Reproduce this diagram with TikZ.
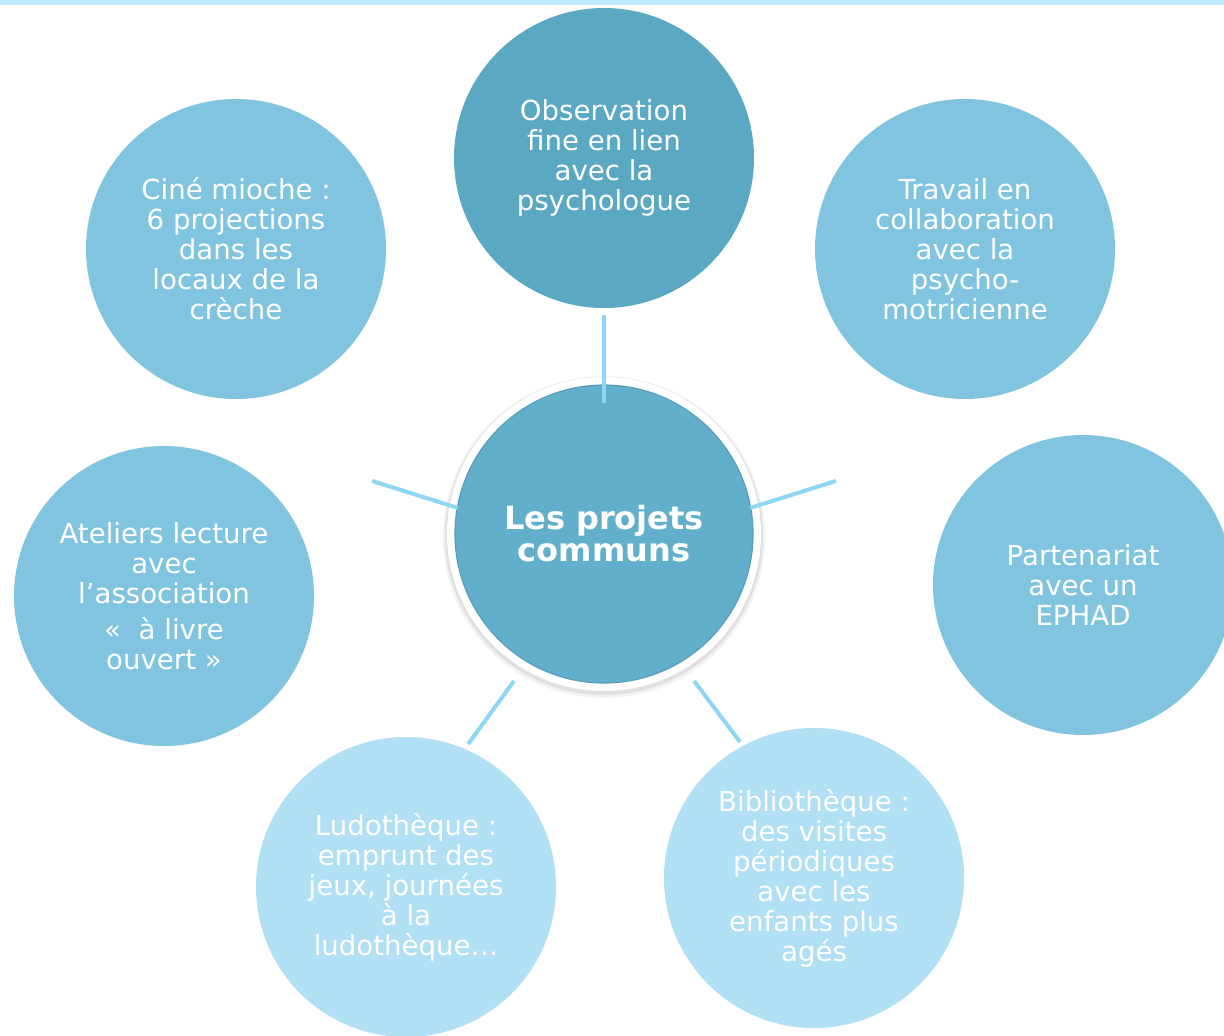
\documentclass[tikz,border=0pt]{standalone}
\usepackage{fontspec}
\setmainfont{DejaVu Sans}
\usetikzlibrary{calc}
\definecolor{topc}{HTML}{5BA8C2}
\definecolor{centc}{HTML}{62AFCB}
\definecolor{sidec}{HTML}{80C4E0}
\definecolor{lowc}{HTML}{B1DFF4}
\definecolor{connc}{HTML}{8ED6F5}
\definecolor{stripc}{HTML}{C3EAFB}
\tikzset{
  bubble/.style={circle, minimum size=150pt, inner sep=0pt, outer sep=0pt, text=white, align=center, font=\fontsize{13.8}{15}\selectfont},
  conn/.style={draw=connc, line width=2pt},
}
\begin{document}
\begin{tikzpicture}[x=0.5pt,y=0.5pt]
\useasboundingbox (0,0) rectangle (1224,-1035);
\clip (0,0) rectangle (1224,-1035);
\fill[white] (0,0) rectangle (1224,-1035);
% outer bubbles
\node[bubble, fill=topc] (obs) at (604,-158) {Observation\\fine en lien\\avec la\\psychologue};
\node[bubble, fill=sidec] (cine) at (236,-249) {Ciné mioche :\\6 projections\\dans les\\locaux de la\\crèche};
\node[bubble, fill=sidec] (trav) at (965,-249) {Travail en\\collaboration\\avec la\\psycho-\\motricienne};
\node[bubble, fill=sidec] (part) at (1083,-585) {Partenariat\\avec un\\EPHAD};
\node[bubble, fill=sidec] (atel) at (164,-596) {Ateliers lecture\\avec\\l’association\\[3pt]«~ à livre\\ouvert »};
\node[bubble, fill=lowc] (ludo) at (406,-887) {Ludothèque :\\emprunt des\\jeux, journées\\à la\\ludothèque…};
\node[bubble, fill=lowc] (bib) at (814,-878) {Bibliothèque :\\des visites\\périodiques\\avec les\\enfants plus\\agés};
% center
\fill[black, opacity=0.05] (604,-537) circle (161);
\fill[black, opacity=0.07] (604,-536) circle (159);
\fill[white] (604,-534) circle (157);
\node[circle, minimum size=149pt, inner sep=0pt, outer sep=0pt, fill=centc, draw=centc!90!black, line width=0.6pt, text=white, align=center, font=\fontsize{16}{16}\selectfont\bfseries] (c) at (604,-534) {Les projets\\communs};
% connectors
\draw[conn] ($(c.center)+(90:131)$) -- ($(c.center)+(90:219)$);
\draw[conn] ($(c.center)+(169.9:148.3)$) -- ($(c.center)+(167.1:238)$);
\draw[conn] ($(c.center)+(10.1:148.3)$) -- ($(c.center)+(12.9:238)$);
\draw[conn] ($(c.center)+(238.5:172.4)$) -- ($(c.center)+(237.1:250.2)$);
\draw[conn] ($(c.center)+(301.5:172.4)$) -- ($(c.center)+(303.2:248.5)$);
% top stripe
\fill[stripc] (0,0) rectangle (1224,-5);
\end{tikzpicture}
\end{document}
